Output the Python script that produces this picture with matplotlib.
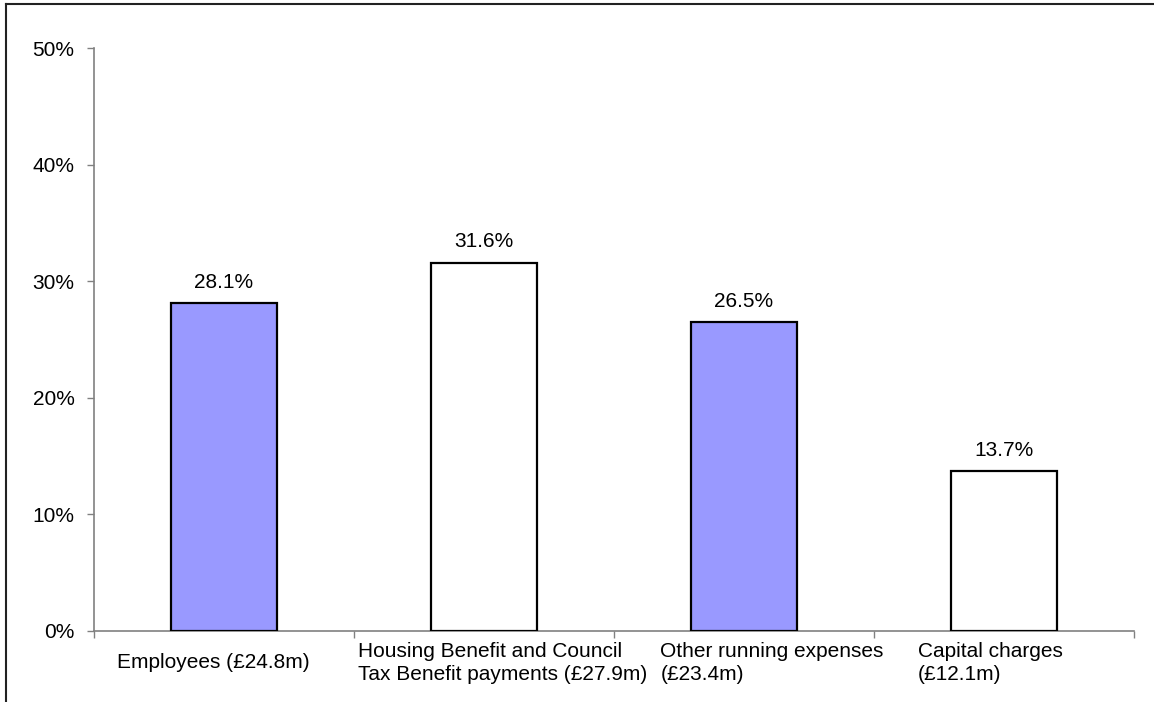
import numpy as np
import matplotlib
matplotlib.use("Agg")
import matplotlib.pyplot as plt
import matplotlib.transforms as mtransforms
from matplotlib.lines import Line2D
from matplotlib.ticker import PercentFormatter

# data
categories = ["Employees (£24.8m)",
              "Housing Benefit and Council\nTax Benefit payments (£27.9m)",
              "Other running expenses\n(£23.4m)",
              "Capital charges\n(£12.1m)"]
shares = [28.1, 31.6, 26.5, 13.7]
bar_colours = ["#9999FF", "#FFFFFF", "#9999FF", "#FFFFFF"]

plt.rcParams['font.family'] = ['Liberation Sans', 'DejaVu Sans']

fig = plt.figure(figsize=(11.54, 7.02), dpi=100)
ax = fig.add_axes([94/1154, 1 - 631/702, 1040/1154, 583/702])

x = np.arange(len(categories))
bars = ax.bar(x, shares, width=0.405, color=bar_colours, edgecolor="black", linewidth=1.6, zorder=3)

for b, v in zip(bars, shares):
    ax.annotate("%.1f%%" % v, (b.get_x() + b.get_width()/2, b.get_height()),
                xytext=(0, 8), textcoords="offset points", ha="center", va="bottom", fontsize=15)

ax.set_xlim(-0.5, 3.5)
ax.set_ylim(0, 50)
ax.set_yticks([0, 10, 20, 30, 40, 50])
ax.yaxis.set_major_formatter(PercentFormatter(decimals=0))

ax.set_xticks(x)
ax.set_xticklabels(categories, multialignment="left", va="center", linespacing=1.3)
ax.set_xticks(np.arange(-0.5, 4, 1), minor=True)
ax.tick_params(axis="x", which="major", length=0, pad=23, labelsize=15)
ax.tick_params(axis="x", which="minor", length=5, width=1, color="#808080", direction="out")
ax.tick_params(axis="y", length=5, width=1, color="#808080", pad=9, labelsize=15)

# nudge the wrapped labels the way the original sits them
shifts = [-11, 19, 28, -14]
for lab, dx in zip(ax.get_xticklabels(), shifts):
    lab.set_transform(lab.get_transform() + mtransforms.ScaledTranslation(dx/100, 0, fig.dpi_scale_trans))

for s in ["top", "right"]:
    ax.spines[s].set_visible(False)
for s in ["left", "bottom"]:
    ax.spines[s].set_color("#808080")
    ax.spines[s].set_linewidth(1.2)

# outer frame (only top and left edges show in the original)
fig.add_artist(Line2D([6/1154, 1], [1 - 3.5/702, 1 - 3.5/702], color="#222222", linewidth=1.5))
fig.add_artist(Line2D([6/1154, 6/1154], [0, 1 - 3.5/702], color="#222222", linewidth=1.5))

fig.savefig("out.png", dpi=100)
